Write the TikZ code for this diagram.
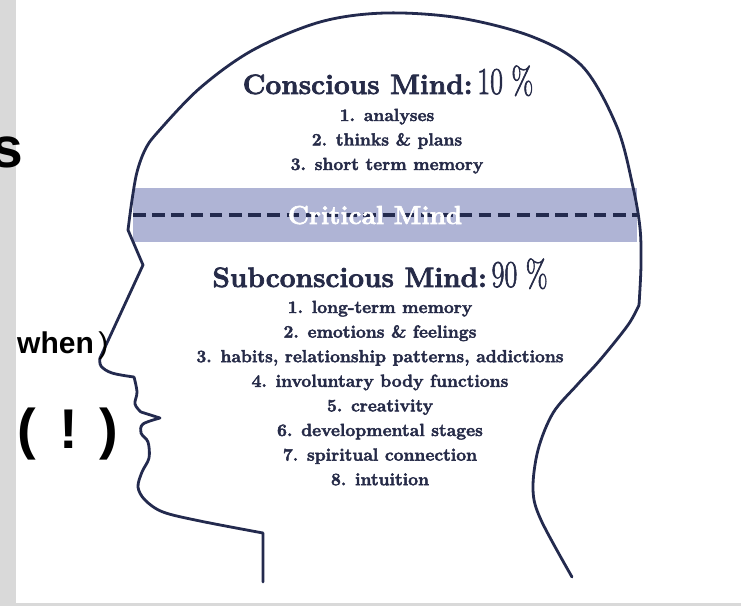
\documentclass[tikz,border=0pt]{standalone}
\usepackage{fontspec}
\usepackage{graphicx}
\setmainfont{Latin Modern Roman}[BoldFeatures={FakeBold=2.5}]
\newfontfamily\numserif{Latin Modern Roman}[FakeBold=2]
\newfontfamily\labelsans{Liberation Sans}
\definecolor{headline}{HTML}{232A4E}
\definecolor{inktext}{HTML}{262B48}
\definecolor{critband}{HTML}{AFB4D5}
\definecolor{edgegray}{HTML}{D9D9D9}
% the condensed percentage that follows each heading
\newcommand{\pctfig}[1]{\scalebox{0.74}[1]{\numserif\mdseries\fontsize{38}{38}\selectfont #1}}

\begin{document}
\begin{tikzpicture}[x=1pt,y=-1pt,
  outline/.style={draw=headline, line width=2.8pt, line join=round, line cap=round},
  heading/.style={font=\bfseries\fontsize{28}{28}\selectfont, text=inktext, anchor=base, inner sep=0pt},
  item/.style={font=\bfseries\fontsize{17.5}{17.5}\selectfont, text=inktext, anchor=base, inner sep=0pt},
  sidetext/.style={text=black, inner sep=0pt}]

\useasboundingbox (0,0) rectangle (741,606);
\fill[white] (0,0) rectangle (741,606);
\fill[edgegray] (0,0) rectangle (16,606);
\fill[edgegray] (0,603) rectangle (741,606);

% critical mind band with its dashed divider
\fill[critband] (133,188) rectangle (637,242);
\draw[headline, line width=4pt, dash pattern=on 12.5pt off 6.7pt] (133,215) -- (637,215);
\node[font=\bfseries\fontsize{26}{26}\selectfont, text=white, anchor=base, inner sep=0pt] (crit) at (375,224) {Critical Mind};

% head profile
\draw[outline]
  (263,582) -- (263,533)
  plot[smooth, tension=0.55] coordinates {(263,533) (200,521) (163,512) (145,500) (138,487) (142,472) (149,458) (148,442) (141,433) (143,424) (160,418)}
  -- (141,412)
  plot[smooth, tension=0.6] coordinates {(141,412) (135,404) (137,392) (134,377)}
  plot[smooth, tension=0.6] coordinates {(134,377) (112,373) (101,366) (100,358)}
  -- (143,265) -- (128,230)
  plot[smooth, tension=0.55] coordinates {(128,230) (132,200) (137,172) (145,150) (157,133) (200,88) (253,50) (320,22) (385,13) (460,18) (533,37) (583,67) (617,127) (633,187) (640,228) (641,265) (639,305)}
  plot[smooth, tension=0.55] coordinates {(639,305) (628,325) (600,360) (577,385) (553,413) (538,450) (533,490) (541,520) (572,577)};

% conscious mind block
\node[heading] (conscious) at (388,94) {Conscious Mind:\,\pctfig{10 \%}};
\node[item] (c1) at (387,121) {1. analyses};
\node[item] (c2) at (387,145.5) {2. thinks \& plans};
\node[item] (c3) at (387,170) {3. short term memory};

% subconscious mind block
\node[heading] (subconscious) at (380,287) {Subconscious Mind:\,\pctfig{90 \%}};
\node[item] (s1) at (380,313) {1. long-term memory};
\node[item] (s2) at (380,337.6) {2. emotions \& feelings};
\node[item] (s3) at (380,362.2) {3. habits, relationship patterns, addictions};
\node[item] (s4) at (380,386.8) {4. involuntary body functions};
\node[item] (s5) at (380,411.4) {5. creativity};
\node[item] (s6) at (380,436) {6. developmental stages};
\node[item] (s7) at (380,460.6) {7. spiritual connection};
\node[item] (s8) at (380,485.2) {8. intuition};

% side remarks
\node[sidetext, font=\labelsans\bfseries\fontsize{57}{57}\selectfont, anchor=base east] (sfrag) at (23,167) {s};
\node[sidetext, font=\labelsans\fontsize{30}{30}\selectfont, anchor=base west] (when) at (17,353) {\textbf{when}\hspace{0.15em})};
\node[sidetext, font=\labelsans\bfseries\fontsize{56}{56}\selectfont, anchor=base west] (excl) at (17,448) {(\hspace{0.42em}!\hspace{0.38em})};
\end{tikzpicture}
\end{document}
